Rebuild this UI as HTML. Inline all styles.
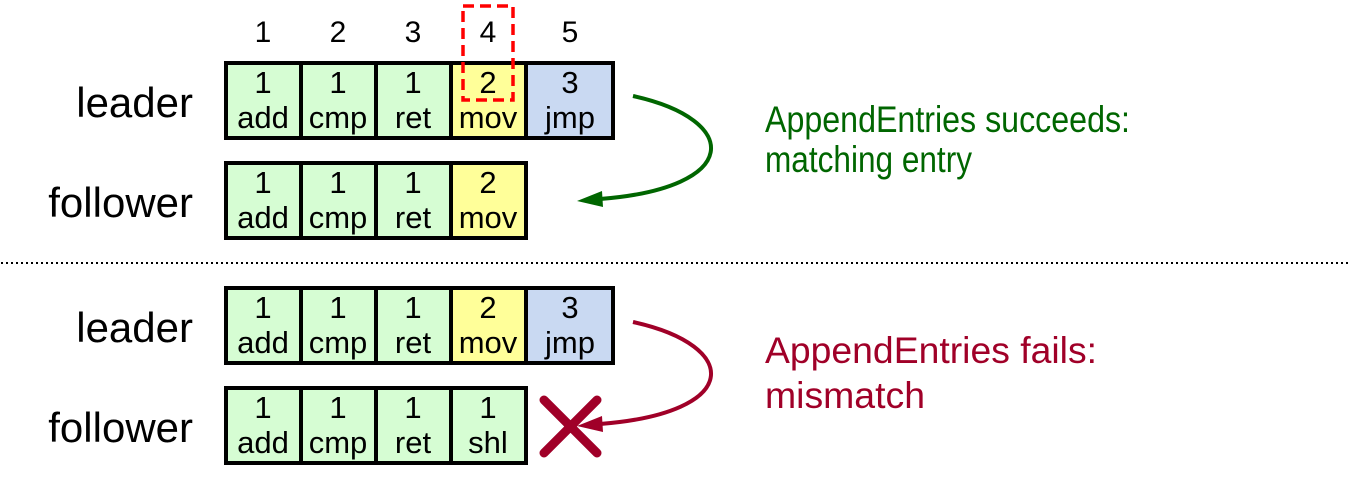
<!DOCTYPE html>
<html><head><meta charset="utf-8"><style>html,body{margin:0;padding:0;background:#fff}svg{display:block}</style></head>
<body>
<svg width="1353" height="482" viewBox="0 0 1353 482" xmlns="http://www.w3.org/2000/svg" font-family="Liberation Sans, Arial, sans-serif">
<g font-size="30" text-anchor="middle" fill="#000">
<text x="263" y="42">1</text><text x="338" y="42">2</text><text x="413" y="42">3</text><text x="488" y="42">4</text><text x="570" y="42">5</text>
</g>
<g font-size="42" text-anchor="end" fill="#000">
<text x="193" y="117">leader</text><text x="193" y="217">follower</text>
<text x="193" y="342">leader</text><text x="193" y="442">follower</text>
</g>
<g stroke="#000" stroke-width="4">
<rect x="226" y="63" width="75" height="75" fill="#d6fdd3"/>
<rect x="301" y="63" width="75" height="75" fill="#d6fdd3"/>
<rect x="376" y="63" width="75" height="75" fill="#d6fdd3"/>
<rect x="451" y="63" width="75" height="75" fill="#ffff99"/>
<rect x="526" y="63" width="87" height="75" fill="#c9d9f2"/>
<rect x="226" y="163" width="75" height="75" fill="#d6fdd3"/>
<rect x="301" y="163" width="75" height="75" fill="#d6fdd3"/>
<rect x="376" y="163" width="75" height="75" fill="#d6fdd3"/>
<rect x="451" y="163" width="75" height="75" fill="#ffff99"/>
<rect x="226" y="288" width="75" height="75" fill="#d6fdd3"/>
<rect x="301" y="288" width="75" height="75" fill="#d6fdd3"/>
<rect x="376" y="288" width="75" height="75" fill="#d6fdd3"/>
<rect x="451" y="288" width="75" height="75" fill="#ffff99"/>
<rect x="526" y="288" width="87" height="75" fill="#c9d9f2"/>
<rect x="226" y="388" width="75" height="75" fill="#d6fdd3"/>
<rect x="301" y="388" width="75" height="75" fill="#d6fdd3"/>
<rect x="376" y="388" width="75" height="75" fill="#d6fdd3"/>
<rect x="451" y="388" width="75" height="75" fill="#d6fdd3"/>
</g>
<g font-size="31" text-anchor="middle" fill="#000">
<text x="263" y="93">1</text><text x="338" y="93">1</text><text x="413" y="93">1</text><text x="488" y="93">2</text><text x="570" y="93">3</text>
<text x="263" y="128">add</text><text x="338" y="128">cmp</text><text x="413" y="128">ret</text><text x="488" y="128">mov</text><text x="570" y="128">jmp</text>
<text x="263" y="193">1</text><text x="338" y="193">1</text><text x="413" y="193">1</text><text x="488" y="193">2</text>
<text x="263" y="228">add</text><text x="338" y="228">cmp</text><text x="413" y="228">ret</text><text x="488" y="228">mov</text>
<text x="263" y="318">1</text><text x="338" y="318">1</text><text x="413" y="318">1</text><text x="488" y="318">2</text><text x="570" y="318">3</text>
<text x="263" y="353">add</text><text x="338" y="353">cmp</text><text x="413" y="353">ret</text><text x="488" y="353">mov</text><text x="570" y="353">jmp</text>
<text x="263" y="418">1</text><text x="338" y="418">1</text><text x="413" y="418">1</text><text x="488" y="418">1</text>
<text x="263" y="453">add</text><text x="338" y="453">cmp</text><text x="413" y="453">ret</text><text x="488" y="453">shl</text>
</g>
<rect x="463" y="6" width="50" height="94" fill="none" stroke="#ff0000" stroke-width="3.5" stroke-dasharray="11,6"/>
<line x1="1" y1="263" x2="1350" y2="263" stroke="#000" stroke-width="2" stroke-dasharray="2,3"/>
<path d="M633,96 C742,120 742,188 600,199" fill="none" stroke="#006600" stroke-width="4"/>
<polygon points="577,201 602,191 603,207" fill="#006600"/>
<path d="M633,322 C742,346 742,413 600,424" fill="none" stroke="#a00028" stroke-width="4"/>
<polygon points="577,426 602,416 603,432" fill="#a00028"/>
<g stroke="#a00028" stroke-width="9" stroke-linecap="round">
<line x1="544" y1="400" x2="597" y2="453"/><line x1="597" y1="400" x2="544" y2="453"/>
</g>
<g font-size="37">
<text x="765" y="132" fill="#006600" textLength="365" lengthAdjust="spacingAndGlyphs">AppendEntries succeeds:</text>
<text x="765" y="172" fill="#006600" textLength="207" lengthAdjust="spacingAndGlyphs">matching entry</text>
<text x="765" y="363" fill="#a00028" textLength="332" lengthAdjust="spacingAndGlyphs">AppendEntries fails:</text>
<text x="765" y="408" fill="#a00028" textLength="160" lengthAdjust="spacingAndGlyphs">mismatch</text>
</g>
</svg>
</body></html>
